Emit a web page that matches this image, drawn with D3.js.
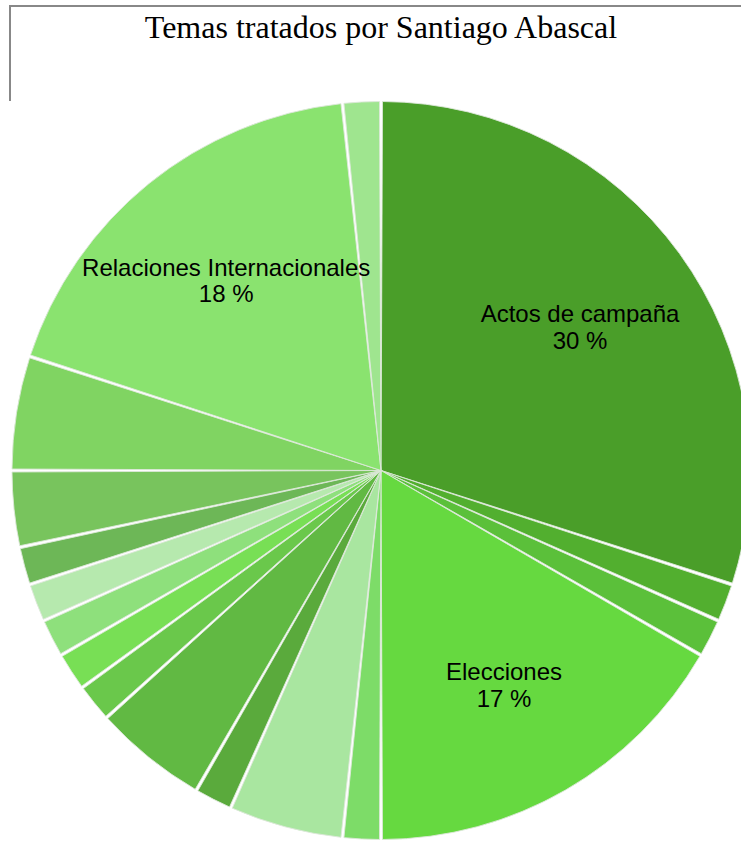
<!DOCTYPE html>
<html>
<head>
<meta charset="utf-8">
<script src="https://cdn.jsdelivr.net/npm/d3@7"></script>
<style>
  html, body { margin: 0; padding: 0; background: #fff; }
  svg { display: block; }
</style>
</head>
<body>
<svg id="chart" width="741" height="841"></svg>
<script>
// ---- Data (clockwise from 12 o'clock) ----
const categories = [
  "Actos de campaña", "Tema 2", "Tema 3", "Elecciones", "Tema 5", "Tema 6",
  "Tema 7", "Tema 8", "Tema 9", "Tema 10", "Tema 11", "Tema 12", "Tema 13",
  "Tema 14", "Tema 15", "Relaciones Internacionales", "Tema 17"
];
const values = [18, 1, 1, 10, 1, 3, 1, 3, 1, 1, 1, 1, 1, 2, 3, 11, 1];
const colors = [
  "#4a9e29", "#52af2f", "#5bc03a", "#66d940", "#7ddc68", "#a9e6a0",
  "#5aaa3c", "#61b943", "#6ac84b", "#78df55", "#8ee07c", "#b6e9ae",
  "#6db757", "#78c45d", "#80d462", "#8ae36f", "#9fe58f"
];
const title = "Temas tratados por Santiago Abascal";
const labelThreshold = 0.1;

// ---- Drawing ----
const svg = d3.select("#chart");
const cx = 381, cy = 470.5, R = 369;

// frame lines (top & left)
svg.append("line").attr("x1", 9).attr("x2", 741).attr("y1", 6).attr("y2", 6)
  .attr("stroke", "#888").attr("stroke-width", 2);
svg.append("line").attr("x1", 10).attr("x2", 10).attr("y1", 5).attr("y2", 101)
  .attr("stroke", "#888").attr("stroke-width", 2);

svg.append("text")
  .attr("x", 381).attr("y", 37.5)
  .attr("text-anchor", "middle")
  .attr("font-family", "'Liberation Serif', 'Times New Roman', serif")
  .attr("font-size", 32)
  .attr("fill", "#000")
  .text(title);

const data = categories.map((c, i) => ({ name: c, value: values[i], color: colors[i] }));
const total = d3.sum(values);

const pie = d3.pie().sort(null).value(d => d.value).startAngle(0).endAngle(2 * Math.PI);
const arcs = pie(data);

const arc = d3.arc().innerRadius(0).outerRadius(R)
  .padAngle(3 / R).padRadius(R);
const labelArc = d3.arc().innerRadius(R * 2 / 3 * 2).outerRadius(0); // centroid at 2/3 R

const g = svg.append("g").attr("transform", `translate(${cx},${cy})`);

g.selectAll("path.slice")
  .data(arcs)
  .join("path")
  .attr("class", "slice")
  .attr("d", arc)
  .attr("fill", d => d.data.color)
  .attr("stroke", "#dde8d9")
  .attr("stroke-width", 0.9)
  .attr("stroke-linejoin", "round");

const labels = g.selectAll("text.lbl")
  .data(arcs.filter(d => d.data.value / total > labelThreshold))
  .join("text")
  .attr("class", "lbl")
  .attr("transform", d => `translate(${labelArc.centroid(d)})`)
  .attr("text-anchor", "middle")
  .attr("font-family", "'Liberation Sans', Arial, Helvetica, sans-serif")
  .attr("font-size", 24)
  .attr("fill", "#000");

labels.append("tspan").attr("x", 0).attr("y", -3.5).text(d => d.data.name);
labels.append("tspan").attr("x", 0).attr("y", 23)
  .text(d => Math.round(d.data.value / total * 100) + " %");
</script>
</body>
</html>
